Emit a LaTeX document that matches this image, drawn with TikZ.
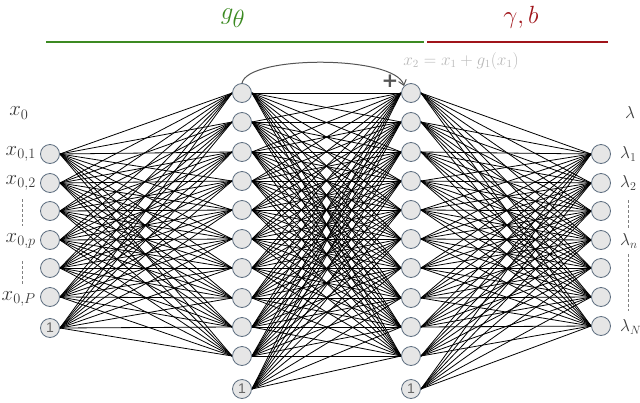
\documentclass[tikz,border=0pt]{standalone}
\usepackage{fontspec}
\newfontfamily\plusfont{DejaVu Sans}
\newfontfamily\onefont{Liberation Sans}
\usetikzlibrary{backgrounds,arrows.meta}
\definecolor{gr}{HTML}{3C8A22}
\definecolor{rd}{HTML}{A0141A}
\definecolor{nodeb}{HTML}{5E6E80}
\definecolor{nodef}{HTML}{E6E6E6}
\definecolor{lab}{HTML}{3A3A3A}
\definecolor{arr}{HTML}{555555}
\begin{document}
\begin{tikzpicture}[x=1pt,y=-1pt,
  neuron/.style={circle,draw=nodeb,fill=nodef,line width=0.8pt,minimum size=19pt,inner sep=0pt},
  bias/.style={neuron,text=gray!80!black,font=\onefont\fontsize{14}{14}\selectfont},
  conn/.style={line width=0.8pt,black},
  lbl/.style={text=lab,font=\fontsize{22}{22}\selectfont,inner sep=0pt},
  rlbl/.style={text=lab,font=\fontsize{17}{17}\selectfont,inner sep=0pt},
  dashv/.style={draw=gray,dashed,line width=0.9pt,dash pattern=on 3pt off 2pt}]
\useasboundingbox (0,0) rectangle (640,402);
% layer 1
\foreach \y [count=\i] in {154,183,211,240,268,297} \node[neuron] (a\i) at (50,\y) {};
\node[bias] (a7) at (50,328) {1};
% layer 2 and 3
\foreach \y [count=\i] in {93,122,152,181,210,239,268,298,327,356} {
  \node[neuron] (b\i) at (242,\y) {};
  \node[neuron] (c\i) at (411,\y) {};
}
\node[bias] (b11) at (242,389) {1};
\node[bias] (c11) at (411,389) {1};
% layer 4
\foreach \y [count=\i] in {154,183,211,240,268,297,326} \node[neuron] (d\i) at (601,\y) {};
% connections
\begin{scope}[on background layer]
\foreach \i in {1,...,7} \foreach \j in {1,...,10} \draw[conn] (a\i.east) -- (b\j.west);
\foreach \i in {1,...,11} \foreach \j in {1,...,10} \draw[conn] (b\i.east) -- (c\j.west);
\foreach \i in {1,...,11} \foreach \j in {1,...,7} \draw[conn] (c\i.east) -- (d\j.west);
\end{scope}
% top bars
\node[text=gr,font=\fontsize{42}{42}\selectfont] (gt) at (233,18) {$g_\theta$};
\node[text=rd,font=\fontsize{42}{42}\selectfont] (gb) at (521,17) {$\gamma, b$};
\coordinate (g1) at (46,42); \coordinate (g2) at (424,42);
\coordinate (r1) at (427,42); \coordinate (r2) at (608,42);
\draw[gr,line width=2.6pt] (g1) -- (g2);
\draw[rd,line width=2.6pt] (r1) -- (r2);
% skip connection
\draw[arr,line width=1pt,-{Straight Barb[length=5pt,width=8pt]}] (b1.north) .. controls (248,55) and (395,55) .. (c1.north west);
\node[text=arr,font=\plusfont\bfseries\fontsize{20}{20}\selectfont] (plus) at (390,81) {+};
\node[text=gray!55,font=\fontsize{16}{16}\selectfont] (eq) at (461,61) {$x_2 = x_1 + g_1(x_1)$};
% left labels
\node[lbl] (lx0) at (19,113) {$x_0$};
\node[lbl,anchor=east] (lx1) at (36,154) {$x_{0,1}$};
\node[lbl,anchor=east] (lx2) at (36,183) {$x_{0,2}$};
\node[lbl,anchor=east] (lxp) at (36,241) {$x_{0,p}$};
\node[lbl,anchor=east] (lxP) at (36,299) {$x_{0,P}$};
\coordinate (dl1) at (22,199); \coordinate (dl2) at (22,226);
\coordinate (dl3) at (22,261); \coordinate (dl4) at (22,284);
\draw[dashv] (dl1) -- (dl2);
\draw[dashv] (dl3) -- (dl4);
% right labels
\node[rlbl] (llam) at (630,112) {$\lambda$};
\node[rlbl,anchor=west] (l1) at (620,154) {$\lambda_1$};
\node[rlbl,anchor=west] (l2) at (620,183) {$\lambda_2$};
\node[rlbl,anchor=west] (ln) at (620,241) {$\lambda_n$};
\node[rlbl,anchor=west] (lN) at (620,327) {$\lambda_N$};
\coordinate (dr1) at (628,200); \coordinate (dr2) at (628,229);
\coordinate (dr3) at (628,254); \coordinate (dr4) at (628,311);
\draw[dashv] (dr1) -- (dr2);
\draw[dashv] (dr3) -- (dr4);
\end{tikzpicture}
\end{document}
